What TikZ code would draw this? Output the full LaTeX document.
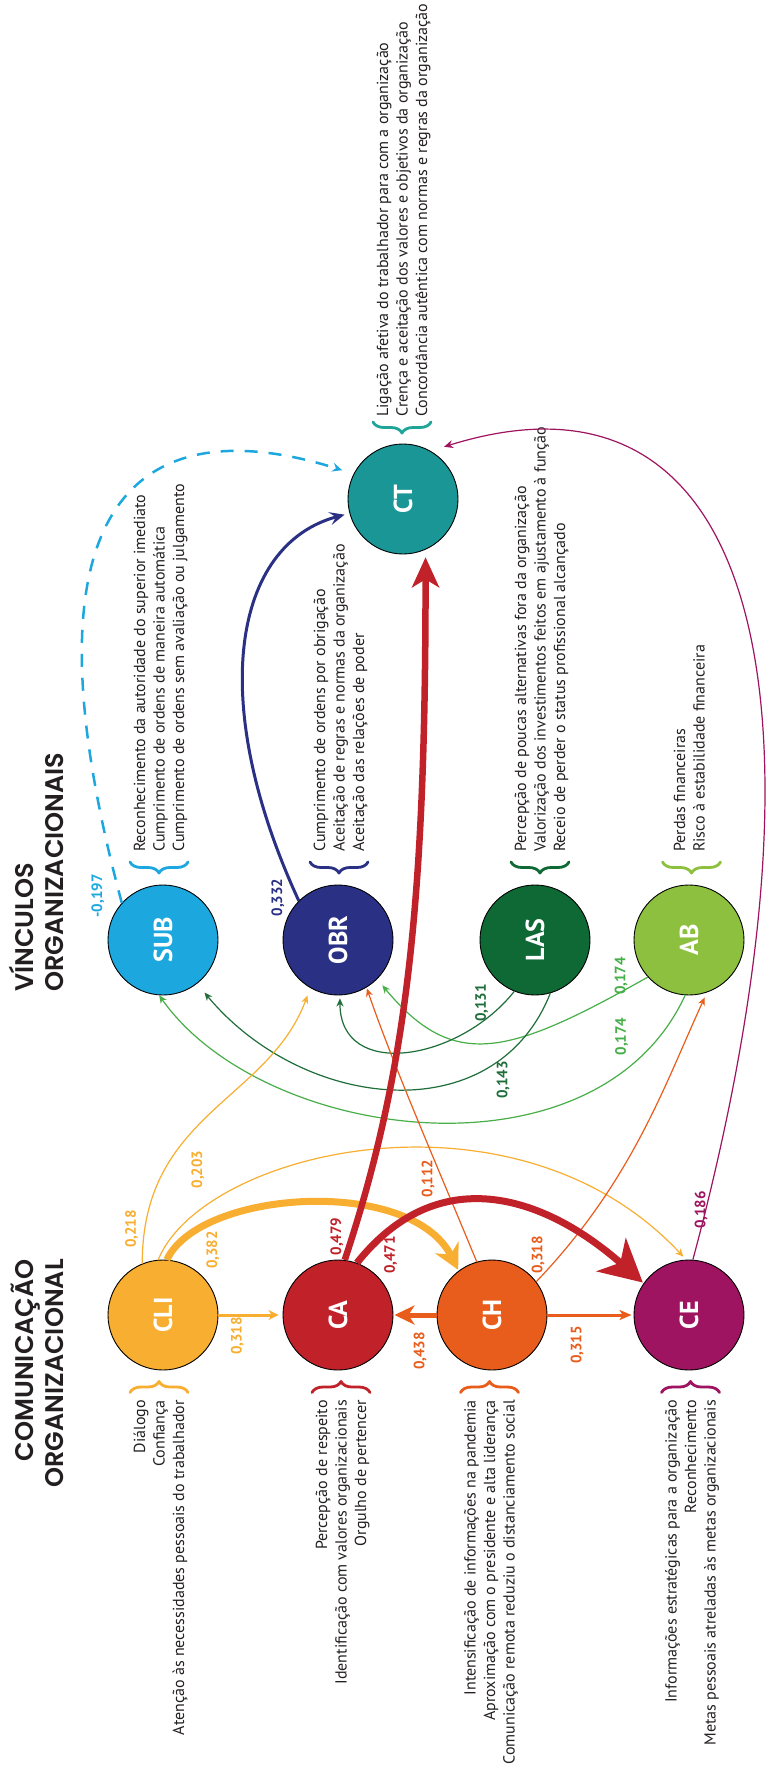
\documentclass[tikz,border=0pt]{standalone}
\usepackage{fontspec}
\usepackage{graphicx}
\setmainfont{PT Sans}
\newfontfamily\headfont{Poppins SemiBold}
\usetikzlibrary{arrows.meta,decorations.pathreplacing}

\definecolor{ccli}{HTML}{F8AE31}
\definecolor{cca}{HTML}{C1222A}
\definecolor{cch}{HTML}{E85D1C}
\definecolor{cce}{HTML}{9E1460}
\definecolor{csub}{HTML}{1CA8DF}
\definecolor{cobr}{HTML}{2A3185}
\definecolor{clas}{HTML}{0E6935}
\definecolor{cab}{HTML}{8CC03E}
\definecolor{cct}{HTML}{1A9696}
\definecolor{cctb}{HTML}{1FA598}
\definecolor{cgrn}{HTML}{47AE48}
\definecolor{cdgrn}{HTML}{1F6E3A}
\definecolor{ctxt}{HTML}{231F20}

\tikzset{
  circ/.style={circle, draw=black, line width=0.9pt, minimum size=110pt, inner sep=0pt,
    text=white, font=\fontsize{26}{26}\selectfont\bfseries},
  desc/.style={rotate=90, inner sep=0pt, text=ctxt, font=\fontsize{16}{18}\selectfont},
  descB/.style={desc, anchor=base east},
  descT/.style={desc, anchor=base west},
  num/.style={rotate=90, inner sep=0pt, font=\fontsize{15}{15}\selectfont\bfseries},
  head/.style={rotate=90, inner sep=0pt, text=ctxt, font=\headfont\fontsize{25.5}{26}\selectfont},
  brc/.style={decorate, decoration={brace, amplitude=11pt}, line width=2.8pt, line cap=round, line join=round},
  brcm/.style={decorate, decoration={brace, amplitude=11pt, mirror}, line width=2.8pt, line cap=round, line join=round},
  link/.style={line width=1.2pt, -{Stealth[length=8pt,width=7pt,inset=2.5pt]}},
}

\begin{document}
\begin{tikzpicture}[x=1pt,y=-1pt]
\useasboundingbox (0,0) rectangle (778,1768);
\fill[white] (0,0) rectangle (778,1768);

% ---------- titles ----------
\node[head, anchor=base west] (tv1) at (33,992) {VÍNCULOS};
\node[head, anchor=base west] (tv2) at (63,992) {ORGANIZACIONAIS};
\node[head, anchor=base east] (tc1) at (33,1259) {COMUNICAÇÃO};
\node[head, anchor=base east] (tc2) at (63,1259) {ORGANIZACIONAL};

% ---------- circles ----------
\node[circ, fill=ccli] (CLI) at (163,1315) {\rotatebox{90}{CLI}};
\node[circ, fill=cca]  (CA)  at (338,1315) {\rotatebox{90}{CA}};
\node[circ, fill=cch]  (CH)  at (492,1315) {\rotatebox{90}{CH}};
\node[circ, fill=cce]  (CE)  at (689,1315) {\rotatebox{90}{CE}};
\node[circ, fill=csub] (SUB) at (163,940) {\rotatebox{90}{SUB}};
\node[circ, fill=cobr] (OBR) at (338,940) {\rotatebox{90}{OBR}};
\node[circ, fill=clas] (LAS) at (535,940) {\rotatebox{90}{LAS}};
\node[circ, fill=cab]  (AB)  at (689,940) {\rotatebox{90}{AB}};
\node[circ, fill=cct]  (CT)  at (403,499) {\rotatebox{90}{CT}};

% ---------- braces ----------
\draw[brc, ccli] (130,1392.5) -- (188,1392.5);
\draw[brc, cca]  (312,1392.5) -- (370,1392.5);
\draw[brc, cch]  (460.5,1392.5) -- (518.5,1392.5);
\draw[brc, cce]  (661.5,1392.5) -- (719.5,1392.5);
\draw[brcm, csub] (130,862) -- (188,862);
\draw[brcm, cobr] (310,862) -- (368,862);
\draw[brcm, clas] (511,862) -- (569,862);
\draw[brcm, cab]  (662.5,862) -- (720.5,862);
\draw[brcm, cctb] (373,422) -- (431,422);

% ---------- descriptions ----------
\node[descB] (dcli1) at (145,1400) {Diálogo};
\node[descB] (dcli2) at (164.5,1400) {Confiança};
\node[descB] (dcli3) at (184,1400) {Atenção às necessidades pessoais do trabalhador};
\node[descB] (dca1) at (327,1400) {Percepção de respeito};
\node[descB] (dca2) at (346.5,1400) {Identificação com valores organizacionais};
\node[descB] (dca3) at (366,1400) {Orgulho de pertencer};
\node[descB] (dch1) at (475.5,1400) {Intensificação de informações na pandemia};
\node[descB] (dch2) at (495,1400) {Aproximação com o presidente e alta liderança};
\node[descB] (dch3) at (514.5,1400) {Comunicação remota reduziu o distanciamento social};
\node[descB] (dce1) at (676.5,1400) {Informações estratégicas para a organização};
\node[descB] (dce2) at (696,1400) {Reconhecimento};
\node[descB] (dce3) at (715.5,1400) {Metas pessoais atreladas às metas organizacionais};

\node[descT] (dsub1) at (145,852) {Reconhecimento da autoridade do superior imediato};
\node[descT] (dsub2) at (164.5,852) {Cumprimento de ordens de maneira automática};
\node[descT] (dsub3) at (184,852) {Cumprimento de ordens sem avaliação ou julgamento};
\node[descT] (dobr1) at (325,852) {Cumprimento de ordens por obrigação};
\node[descT] (dobr2) at (344.5,852) {Aceitação de regras e normas da organização};
\node[descT] (dobr3) at (364,852) {Aceitação das relações de poder};
\node[descT] (dlas1) at (526,852) {Percepção de poucas alternativas fora da organização};
\node[descT] (dlas2) at (545.5,852) {Valorização dos investimentos feitos em ajustamento à função};
\node[descT] (dlas3) at (565,852) {Receio de perder o status profissional alcançado};
\node[descT] (dab1) at (685,852) {Perdas financeiras};
\node[descT] (dab2) at (704.5,852) {Risco à estabilidade financeira};
\node[descT] (dct1) at (388,417) {Ligação afetiva do trabalhador para com a organização};
\node[descT] (dct2) at (407.5,417) {Crença e aceitação dos valores e objetivos da organização};
\node[descT] (dct3) at (427,417) {Concordância autêntica com normas e regras da organização};

% ---------- thin connectors ----------
\draw[link, cgrn] (AB.-94) .. controls +(-88.2,191) and +(104.4,147.6) .. (SUB.-94);
\draw[link, cgrn, shorten >=8pt] (AB.-138) .. controls +(-139.2,78.4) and +(76.8,92.4) .. (OBR.-45);
\draw[link, cdgrn, shorten >=11.5pt] (LAS.-74) .. controls +(-55.5,139.5) and +(105.6,127) .. (SUB.-52);
\draw[link, cdgrn, shorten >=3pt] (LAS.-112) .. controls +(-55.8,70.2) and +(0,85) .. (OBR.-88);
\draw[link, ccli, shorten >=8pt] (CLI.112) .. controls +(0,-150) and +(-42,113) .. (OBR.-120);
\draw[link, ccli, shorten >=4pt] (CLI.95) .. controls +(45.6,-110.4) and +(-170,-182.5) .. (CE.93);
\draw[link, cch, shorten >=1pt] (CH.106) .. controls +(-38,-92) and +(26,76) .. (OBR.-59);
\draw[link, cch, shorten >=5.5pt] (CH.37) .. controls +(96.6,-101) and +(-42,91) .. (AB.-71);
\draw[link, cce, -{Stealth[length=9pt,width=8pt,inset=3pt]}, shorten >=14pt]
  (CE.86) .. controls +(145.6,-543.2) and +(336,-105) .. (CT.60);
\draw[csub, line width=2.5pt, dash pattern=on 13pt off 11pt,
  -{Stealth[length=10pt,width=9pt,inset=3.5pt]}, shorten >=12pt]
  (SUB.138) .. controls +(-112,-417) and +(-204,-64.5) .. (CT.153);
\draw[cobr, line width=3pt, -{Stealth[length=15pt,width=13pt,inset=6pt]}, shorten >=5pt]
  (OBR.135) .. controls +(-92.4,-200) and +(-116.4,31.2) .. (CT.195);

% ---------- straight connectors ----------
\draw[ccli, line width=3pt, -{Stealth[length=10pt,width=10pt,inset=3pt]}, shorten >=4pt] (CLI.east) -- (CA.west);
\draw[cch, line width=5pt, -{Stealth[length=20pt,width=19pt,inset=6pt]}, shorten >=1pt] (CH.west) -- (CA.east);
\draw[cch, line width=3pt, -{Stealth[length=12pt,width=10pt,inset=3pt]}, shorten >=2pt] (CH.east) -- (CE.west);

% ---------- thick connectors ----------
\draw[ccli, line width=7pt, -{Stealth[length=25pt,width=26pt,inset=8pt]}, shorten >=1pt]
  (CLI.86) .. controls +(33,-70) and +(-48,-95) .. (CH.127);
\draw[cca, line width=7pt, -{Stealth[length=42pt,width=44pt,inset=12pt]}, shorten >=1pt]
  (CA.70) .. controls +(80.6,-101.4) and +(-101.25,-89.1) .. (CE.145);
\draw[cca, line width=6.5pt, -{Stealth[length=30pt,width=27pt,inset=8pt]}, shorten >=7.6pt]
  (CA.83) .. controls +(63,-190) and +(0,350) .. (CT.-66);

% ---------- coefficients ----------
\node[num, ccli] (n218) at (131.7,1229) {0,218};
\node[num, ccli] (n203) at (198,1169.5) {0,203};
\node[num, ccli] (n382) at (213,1250) {0,382};
\node[num, ccli] (n318a) at (237.5,1336) {0,318};
\node[num, cca] (n479) at (337,1236.5) {0,479};
\node[num, cca] (n471) at (390.5,1255) {0,471};
\node[num, cch] (n438) at (420,1351) {0,438};
\node[num, cch] (n112) at (428,1178.5) {0,112};
\node[num, cch] (n318b) at (538,1255) {0,318};
\node[num, cch] (n315) at (577,1345) {0,315};
\node[num, cce] (n186) at (701,1210) {0,186};
\node[num, csub] (n197) at (98,896) {-0,197};
\node[num, cobr] (n332) at (278,897.5) {0,332};
\node[num, cdgrn] (n131) at (481.5,1003) {0,131};
\node[num, cdgrn] (n143) at (503,1080) {0,143};
\node[num, cgrn] (n174a) at (621,976) {0,174};
\node[num, cgrn] (n174b) at (621.5,1036.5) {0,174};
\end{tikzpicture}
\end{document}
